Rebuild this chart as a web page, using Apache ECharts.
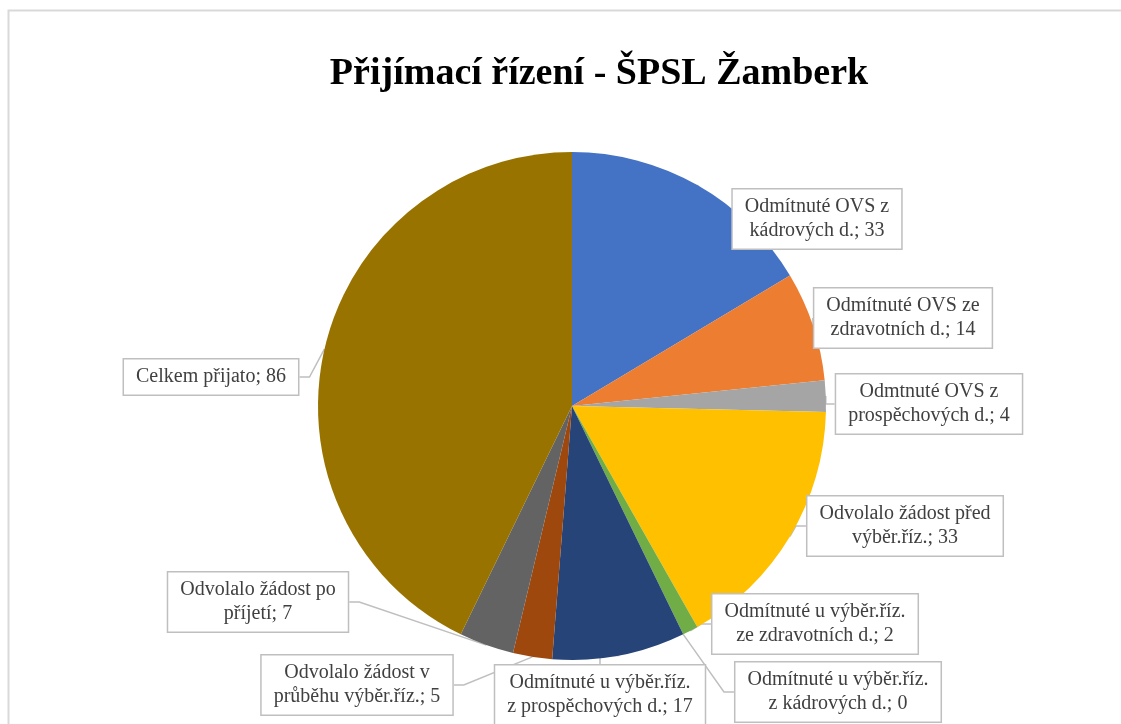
<!DOCTYPE html>
<html>
<head>
<meta charset="utf-8">
<script src="https://cdn.jsdelivr.net/npm/echarts@6/dist/echarts.min.js"></script>
<style>
  html, body { margin: 0; padding: 0; background: #fff; }
  #chart { width: 1121px; height: 724px; }
</style>
</head>
<body>
<div id="chart"></div>
<script>
// kategorie a hodnoty
const categories = [
  'Odmítnuté OVS z\nkádrových d.',
  'Odmítnuté OVS ze\nzdravotních d.',
  'Odmtnuté OVS z\nprospěchových d.',
  'Odvolalo žádost před\nvýběr.říz.',
  'Odmítnuté u výběr.říz.\nze zdravotních d.',
  'Odmítnuté u výběr.říz.\nz kádrových d.',
  'Odmítnuté u výběr.říz.\nz prospěchových d.',
  'Odvolalo žádost v\nprůběhu výběr.říz.',
  'Odvolalo žádost po\npříjetí',
  'Celkem přijato'
];
const values = [33, 14, 4, 33, 2, 0, 17, 5, 7, 86];
const colors = ['#4472C4', '#ED7D31', '#A5A5A5', '#FFC000', '#70AD47',
  '#5B9BD5', '#264478', '#9E480E', '#636363', '#997300'];

// umístění popisků (středy rámečků)
const labelPos = [
  [817, 219], [903, 318], [929, 404], [905, 526], [815, 624],
  [838, 692], [600, 695], [357, 685], [258, 602], [211, 377]
];

const chart = echarts.init(document.getElementById('chart'));

const option = {
  animation: false,
  title: {
    text: 'Přijímací řízení - ŠPSL Žamberk',
    left: 594,
    top: 50,
    textAlign: 'center',
    textStyle: {
      fontFamily: '"Liberation Serif", serif',
      fontWeight: 'bold',
      fontSize: 38,
      color: '#000'
    }
  },
  graphic: [
    {
      type: 'rect',
      shape: { x: 8.5, y: 10.5, width: 1200, height: 800 },
      style: { fill: 'none', stroke: '#d9d9d9', lineWidth: 2 },
      silent: true
    }
  ],
  series: [
    {
      type: 'pie',
      center: [572, 406],
      radius: 254,
      startAngle: 90,
      clockwise: true,
      avoidLabelOverlap: false,
      data: categories.map((name, i) => ({
        name,
        value: values[i],
        itemStyle: { color: colors[i] }
      })),
      label: {
        show: true,
        position: 'outside',
        formatter: (p) => p.name + '; ' + p.value,
        fontFamily: '"Liberation Serif", serif',
        fontSize: 20,
        lineHeight: 24,
        color: '#404040',
        backgroundColor: '#fff',
        borderColor: '#bfbfbf',
        borderWidth: 1.5,
        padding: [6, 12, 5, 12],
        align: 'center'
      },
      labelLine: {
        show: true,
        length: 10,
        length2: 10,
        lineStyle: { color: '#bfbfbf', width: 1.5 }
      },
      labelLayout: (params) => {
        const p = labelPos[params.dataIndex];
        return { x: p[0], y: p[1], align: 'center', verticalAlign: 'middle' };
      },
      emphasis: { disabled: true }
    }
  ]
};

chart.setOption(option);
window.addEventListener('resize', () => chart.resize());
</script>
</body>
</html>
